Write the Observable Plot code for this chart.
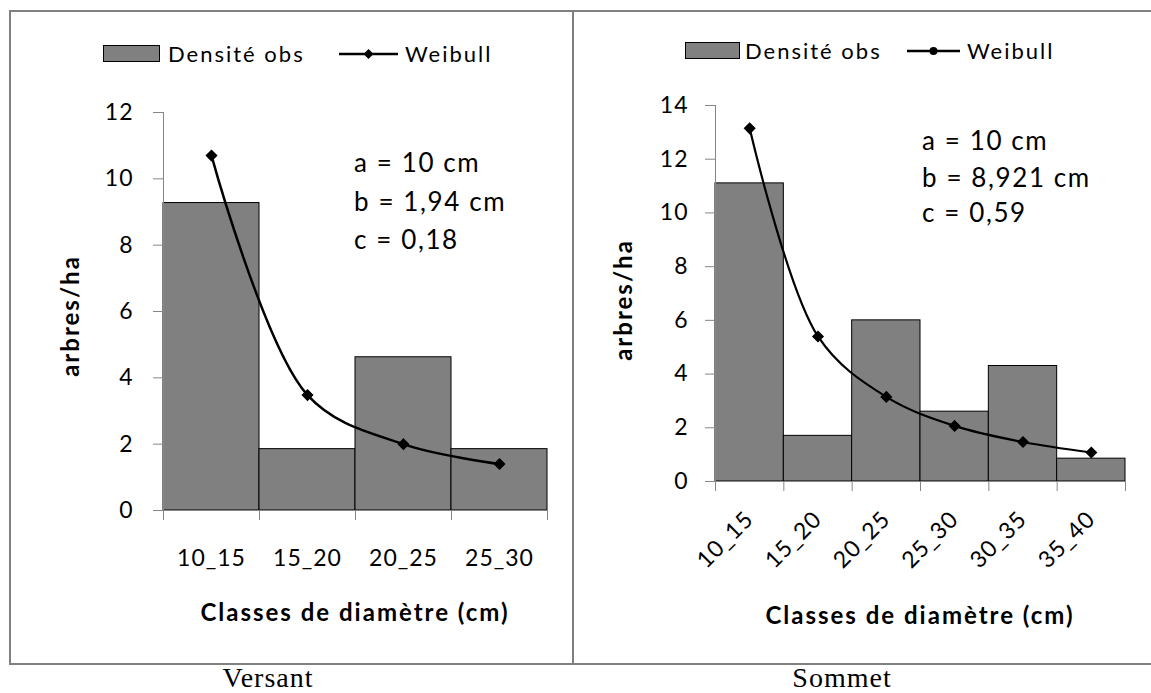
<!DOCTYPE html>
<html><head><meta charset="utf-8">
<script src="https://cdn.jsdelivr.net/npm/d3@7"></script>
<script src="https://cdn.jsdelivr.net/npm/@observablehq/plot@0.6"></script>
<style>
body{margin:0;background:#fff}
#root{position:relative;width:1151px;height:693px;overflow:hidden;font-family:Lato,"Open Sans",sans-serif;color:#000}
.abs{position:absolute;white-space:nowrap;line-height:1}
.plot{position:absolute;top:0}
</style></head><body><div id="root"></div>
<script>
// ---- data ----
const seriesNames = ["Densité obs", "Weibull"];
const yLabel = "arbres/ha";
const xLabel = "Classes de diamètre (cm)";
const panelTitles = ["Versant", "Sommet"];

const versantClasses = ["10_15", "15_20", "20_25", "25_30"];
const versantObs = [9.27, 1.85, 4.62, 1.85];
const versantWeibull = [10.7, 3.48, 2.0, 1.4];
const versantTicks = [0, 2, 4, 6, 8, 10, 12];
const versantParams = ["a = 10 cm", "b = 1,94 cm", "c = 0,18"];

const sommetClasses = ["10_15", "15_20", "20_25", "25_30", "30_35", "35_40"];
const sommetObs = [11.1, 1.7, 6.0, 2.6, 4.3, 0.85];
const sommetWeibull = [13.15, 5.4, 3.15, 2.07, 1.47, 1.08];
const sommetTicks = [0, 2, 4, 6, 8, 10, 12, 14];
const sommetParams = ["a = 10 cm", "b = 8,921 cm", "c = 0,59"];

const root = document.getElementById("root");
const GRAY = "#868686";

function makePlot(classes, obs, fit, ticks, m) {
  const rows = classes.map((c, i) => {
    const [lo, hi] = c.split("_").map(Number);
    return {c, lo, hi, mid: (lo + hi) / 2, obs: obs[i], fit: fit[i]};
  });
  const bounds = [...new Set(rows.flatMap(d => [d.lo, d.hi]))];
  const lbl = new Map(rows.map(d => [d.mid, d.c]));
  return Plot.plot({
    width: m.width, height: m.height,
    marginLeft: m.left, marginRight: m.right, marginTop: m.top, marginBottom: m.bottom,
    style: {fontFamily: "Lato, 'Open Sans', sans-serif", background: "transparent", overflow: "visible", letterSpacing: "1px"},
    x: {type: "linear", domain: [rows[0].lo, rows[rows.length - 1].hi]},
    y: {domain: [0, ticks[ticks.length - 1]]},
    marks: [
      Plot.rectY(rows, {x1: "lo", x2: "hi", y: "obs", fill: "#808080", stroke: "#000", strokeWidth: 1}),
      Plot.ruleY([0], {stroke: GRAY, strokeWidth: 1}),
      Plot.ruleX([rows[0].lo], {stroke: GRAY, strokeWidth: 1}),
      Plot.axisY({ticks, tickSize: 10, tickPadding: m.yPad, stroke: GRAY, fill: "#000", fontSize: 23, label: null}),
      Plot.axisX({ticks: bounds, tickSize: 10, tickFormat: () => "", stroke: GRAY, label: null}),
      Plot.axisX({ticks: rows.map(d => d.mid), tickSize: 0, tickPadding: m.xPad, tickRotate: m.rot,
                  tickFormat: d => lbl.get(d), fill: "#000", fontSize: 23, label: null}),
      Plot.line(rows, {x: "mid", y: "fit", curve: "catmull-rom", stroke: "#000", strokeWidth: m.lw}),
      Plot.dot(rows, {x: "mid", y: "fit", symbol: "diamond2", r: 4.5, fill: "#000", stroke: "#000"})
    ]
  });
}

function addPlot(svg, left) {
  svg.classList.add("plot");
  svg.style.left = left + "px";
  root.appendChild(svg);
}

function text(str, x, y, style, anchor) {
  const d = document.createElement("div");
  d.className = "abs";
  d.textContent = str;
  Object.assign(d.style, style);
  d.style.left = x + "px";
  d.style.top = y + "px";
  d.style.transform = anchor === "middle" ? "translate(-50%,-50%)" : "translate(0,-50%)";
  root.appendChild(d);
  return d;
}

function vtext(str, x, y, style) {
  const d = text(str, x, y, style, "middle");
  d.style.transform = "translate(-50%,-50%) rotate(-90deg)";
  return d;
}

function legend(x0, y, rectW, textX, lineX1, lineX2, lineY, wx, marker) {
  const ns = "http://www.w3.org/2000/svg";
  const s = document.createElementNS(ns, "svg");
  s.setAttribute("width", 1151); s.setAttribute("height", 693);
  s.style.position = "absolute"; s.style.left = "0"; s.style.top = "0"; s.style.pointerEvents = "none";
  const r = document.createElementNS(ns, "rect");
  r.setAttribute("x", x0 + 0.5); r.setAttribute("y", y - 8.5); r.setAttribute("width", rectW); r.setAttribute("height", 16);
  r.setAttribute("fill", "#808080"); r.setAttribute("stroke", "#000");
  s.appendChild(r);
  const l = document.createElementNS(ns, "line");
  l.setAttribute("x1", lineX1); l.setAttribute("x2", lineX2); l.setAttribute("y1", lineY); l.setAttribute("y2", lineY);
  l.setAttribute("stroke", "#000"); l.setAttribute("stroke-width", 2.5);
  s.appendChild(l);
  const cx = (lineX1 + lineX2) / 2;
  let mk;
  if (marker === "circle") {
    mk = document.createElementNS(ns, "circle");
    mk.setAttribute("cx", cx); mk.setAttribute("cy", lineY); mk.setAttribute("r", 4);
  } else {
    mk = document.createElementNS(ns, "path");
    mk.setAttribute("d", `M${cx},${lineY - 5}L${cx + 5},${lineY}L${cx},${lineY + 5}L${cx - 5},${lineY}Z`);
  }
  mk.setAttribute("fill", "#000");
  s.appendChild(mk);
  root.appendChild(s);
  const ls = {fontSize: "22px", letterSpacing: "2px"};
  text(seriesNames[0], textX, y, ls);
  text(seriesNames[1], wx, lineY, ls);
}

// frame
const frame = document.createElement("div");
Object.assign(frame.style, {position: "absolute", left: "9px", top: "10px", width: "1150px", height: "651px",
  borderTop: "2px solid #808080", borderLeft: "2px solid #808080", borderBottom: "2px solid #808080"});
root.appendChild(frame);
const divider = document.createElement("div");
Object.assign(divider.style, {position: "absolute", left: "572px", top: "10px", width: "2px", height: "655px", background: "#808080"});
root.appendChild(divider);

// left panel
addPlot(makePlot(versantClasses, versantObs, versantWeibull, versantTicks,
  {width: 573, height: 663, left: 163, right: 26, top: 112, bottom: 153, yPad: 20, xPad: 39, rot: 0, lw: 2.5}), 0);
// right panel
addPlot(makePlot(sommetClasses, sommetObs, sommetWeibull, sommetTicks,
  {width: 578, height: 663, left: 142, right: 26, top: 105, bottom: 182, yPad: 17, xPad: 34, rot: -45, lw: 2.2}), 573);

const labStyle = {fontSize: "24px", fontWeight: "bold", letterSpacing: "2px"};
const parStyle = {fontSize: "26px", letterSpacing: "1.6px"};

// left texts
legend(103, 54, 56, 168, 339, 398, 54, 405, "diamond");
versantParams.forEach((p, i) => text(p, 354, [162, 201, 239][i], parStyle));
vtext(yLabel, 70, 316, labStyle);
text(xLabel, 355, 612, labStyle, "middle");
text(panelTitles[0], 268, 678, {fontFamily: "'Liberation Serif','Times New Roman',serif", fontSize: "28px", letterSpacing: "1px"}, "middle");

// right texts
legend(685, 51, 54, 745, 907, 960, 51, 967, "circle");
sommetParams.forEach((p, i) => text(p, 922, [140, 177, 212][i], parStyle));
vtext(yLabel, 623, 300, labStyle);
text(xLabel, 920, 615, labStyle, "middle");
text(panelTitles[1], 842, 678, {fontFamily: "'Liberation Serif','Times New Roman',serif", fontSize: "28px", letterSpacing: "1px"}, "middle");
</script>
</body></html>
